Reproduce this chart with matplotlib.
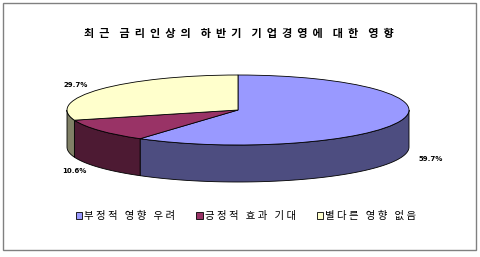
import numpy as np
import matplotlib.pyplot as plt
from matplotlib.patches import Polygon, Rectangle

plt.rcParams['font.family'] = ['Noto Sans CJK KR', 'DejaVu Sans']

title = '최근 금리인상의 하반기 기업경영에 대한 영향'
categories = ['부정적 영향 우려', '긍정적 효과 기대', '별다른 영향 없음']
shares = [59.7, 10.6, 29.7]
top_colors = ['#9999ff', '#993366', '#ffffcc']
side_colors = ['#4d4d80', '#4d1a33', '#808066']

W, H = 480, 257
cx, cy = 238, 110      # pie centre (pixels, from top-left)
rx, ry = 171, 35       # ellipse radii
depth = 37 / ry        # thickness in y units


def spaced(s, gap=1, word_gap=3):
    # old excel-style letter spacing
    return (' ' * word_gap).join((' ' * gap).join(w) for w in s.split(' '))


fig = plt.figure(figsize=(W / 100, H / 100), dpi=100)
fig.patches.append(Rectangle((3 / W, 7 / H), 473 / W, 247 / H, transform=fig.transFigure,
                             fill=False, edgecolor='#808080', lw=1))

ax = fig.add_axes([0, 0, 1, 1])
wedges, _ = ax.pie(shares, colors=top_colors, startangle=90, counterclock=False,
                   wedgeprops=dict(edgecolor='black', linewidth=0.6))
ax.set_aspect('auto')
ax.set_xlim(-cx / rx, (W - cx) / rx)
ax.set_ylim(-(H - cy) / ry, cy / ry)
ax.axis('off')

# side walls of the front half
for w, col in zip(wedges, side_colors):
    t1, t2 = w.theta1, w.theta2
    for lo, hi in [(-540, -360), (-180, 0), (180, 360)]:
        a, b = max(t1, lo), min(t2, hi)
        if a >= b:
            continue
        t = np.radians(np.linspace(a, b, 80))
        xs = np.concatenate([np.cos(t), np.cos(t[::-1])])
        ys = np.concatenate([np.sin(t), np.sin(t[::-1]) - depth])
        ax.add_patch(Polygon(np.column_stack([xs, ys]), closed=True, facecolor=col,
                             edgecolor='black', lw=0.6, zorder=0))

# percentage labels
for w, v in zip(wedges, shares):
    mid = np.radians((w.theta1 + w.theta2) / 2)
    x, y = 1.18 * np.cos(mid), 1.18 * np.sin(mid)
    if y < 0:
        y -= depth
    ax.text(x, y, f'{v:.1f}%', ha='center', va='center', fontsize=5,
            fontweight='bold', family='DejaVu Sans')

fig.text(239 / W, 1 - 34 / H, spaced(title, 2, 4), ha='center', va='center',
         fontsize=8, fontweight='bold')

fig.legend(wedges, [spaced(c) for c in categories], loc='center',
           bbox_to_anchor=(246 / W, 1 - 216 / H), ncol=3, frameon=False,
           fontsize=7.5, handlelength=0.6, handleheight=0.6, handletextpad=0.2,
           columnspacing=2.0)

fig.savefig('out.png', dpi=100)
